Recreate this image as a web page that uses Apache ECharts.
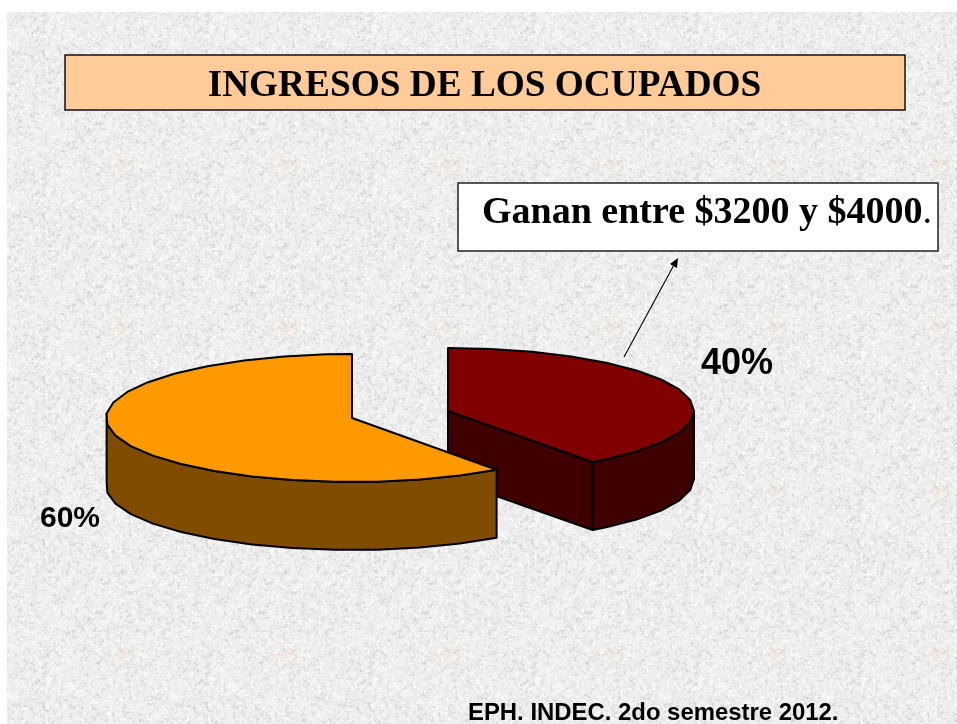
<!DOCTYPE html>
<html>
<head>
<meta charset="utf-8">
<style>html,body{margin:0;padding:0;background:#fff}#chart{width:957px;height:724px}</style>
<script src="https://cdn.jsdelivr.net/npm/echarts@6/dist/echarts.min.js"></script>
</head>
<body>
<div id="chart"></div>
<script>
// --- data ---
const sliceNames = ['Ganan entre $3200 y $4000', 'Resto'];
const sliceValues = [40, 60];
const chartTitle = 'INGRESOS DE LOS OCUPADOS';
const calloutText = 'Ganan entre $3200 y $4000';
const sourceText = 'EPH. INDEC. 2do semestre 2012.';

// --- look ---
const topColors = ['#800000', '#ff9900'];
const sideColors = ['#3f0000', '#804d00'];
const centers = [[448, 411], [352, 418]];
const radiiX = [246, 246];
const radiiY = [63, 64];
const depth = 68;
const labelBoxes = [
  {x: 737, y: 364, size: 36},
  {x: 70, y: 519, size: 30}
];

// Subtle paper texture tile (deterministic hash, decoration only)
function makeTile() {
  const S = 163, c = document.createElement('canvas');
  c.width = c.height = S;
  const g = c.getContext('2d');
  g.fillStyle = '#ededed';
  g.fillRect(0, 0, S, S);
  let seed = 12345;
  const rnd = () => (seed = (seed * 1664525 + 1013904223) >>> 0) / 4294967296;
  g.filter = 'blur(0.6px)';
  g.lineCap = 'round';
  for (let i = 0; i < 3600; i++) {
    const x = rnd() * S, y = rnd() * S, a = rnd() * 6.283, l = 1.5 + rnd() * 3, k = rnd();
    g.strokeStyle = k < 0.62 ? 'rgba(255,255,255,0.48)' : 'rgba(180,180,180,0.26)';
    g.lineWidth = 0.8 + rnd() * 0.9;
    for (const dx of [0, -S, S]) for (const dy of [0, -S, S]) {
      if (x + dx < -8 || x + dx > S + 8 || y + dy < -8 || y + dy > S + 8) continue;
      g.beginPath();
      g.moveTo(x + dx, y + dy);
      g.lineTo(x + dx + Math.cos(a) * l, y + dy + Math.sin(a) * l);
      g.stroke();
    }
  }
  // faint peach motif
  g.filter = 'blur(1.5px)';
  g.fillStyle = 'rgba(240,205,170,0.12)';
  const mx = 123, my = 2;
  for (const dy of [0, S]) {
    g.fillRect(mx - 10, my + dy - 3, 20, 6);
    g.fillRect(mx - 5, my + dy - 11, 10, 22);
  }
  g.filter = 'none';
  return c;
}

function pt(cx, cy, rx, ry, deg, dy) {
  const r = deg * Math.PI / 180;
  return [cx + rx * Math.sin(r), cy - ry * Math.cos(r) + (dy || 0)];
}
function arcAngles(a0, a1) {
  const out = [];
  for (let a = a0; a < a1 - 0.01; a += 10) out.push(a);
  out.push(a1);
  return out;
}

const total = sliceValues.reduce((s, v) => s + v, 0);
const startAngles = sliceValues.map((_, i) =>
  sliceValues.slice(0, i).reduce((s, v) => s + v, 0) / total * 360);

const stroke = {stroke: '#000', lineWidth: 2, lineJoin: 'round'};

function renderSlice(params, api) {
  const i = params.dataIndex;
  const a0 = startAngles[i], a1 = a0 + api.value(0) / total * 360;
  const [cx, cy] = centers[i], rx = radiiX[i], ry = radiiY[i];
  const P = (a, d) => pt(cx, cy, rx, ry, a, d);
  const children = [];
  const poly = (points, fill, z2) => children.push({
    type: 'polygon', z2: z2, shape: {points},
    style: Object.assign({fill}, stroke)
  });
  // radial cut face, when it looks toward the viewer
  if (a1 < 180) {
    const e = P(a1);
    poly([[cx, cy], e, [e[0], e[1] + depth], [cx, cy + depth]], sideColors[i], 1);
  }
  // outer wall: the front part of the rim
  const v0 = Math.max(a0, 90), v1 = Math.min(a1, 270);
  if (v1 > v0) {
    const wall = i === 0 ? arcAngles(v0, v1) : arcAngles(v0, v1 + 4);
    const up = wall.map(a => P(a));
    const down = wall.slice().reverse().map(a => P(a, depth));
    poly(up.concat(down), sideColors[i], 2);
  }
  // top face
  const top = arcAngles(a0, a1).map(a => P(a));
  poly([[cx, cy]].concat(top), topColors[i], 3);
  // percentage label
  children.push({
    type: 'text', z2: 4,
    style: {
      x: labelBoxes[i].x, y: labelBoxes[i].y,
      text: api.value(0) + '%',
      align: 'center', verticalAlign: 'middle',
      fontFamily: 'Liberation Sans', fontWeight: 'bold',
      fontSize: labelBoxes[i].size, fill: '#000'
    }
  });
  return {type: 'group', children};
}

const chart = echarts.init(document.getElementById('chart'), null, {renderer: 'canvas'});
chart.setOption({
  animation: false,
  backgroundColor: '#fff',
  tooltip: {show: false},
  graphic: [
    {type: 'rect', z: -10, silent: true, shape: {x: 7, y: 12, width: 950, height: 712},
      style: {fill: {image: makeTile(), repeat: 'repeat'}}},
    {type: 'rect', z: 5, shape: {x: 65, y: 55, width: 840, height: 55},
      style: {fill: '#ffcc99', stroke: '#111', lineWidth: 1.5}},
    {type: 'text', z: 6, style: {x: 484.5, y: 86, text: chartTitle, align: 'center', verticalAlign: 'middle',
      fontFamily: 'Liberation Serif', fontWeight: 'bold', fontSize: 37.3, fill: '#000'}},
    {type: 'rect', z: 5, shape: {x: 458, y: 183, width: 480, height: 68},
      style: {fill: '#fff', stroke: '#222', lineWidth: 1.5}},
    {type: 'text', z: 6, style: {x: 482, y: 213, text: '{b|' + calloutText + '}{r|.}', align: 'left', verticalAlign: 'middle',
      rich: {
        b: {fontFamily: 'Liberation Serif', fontWeight: 'bold', fontSize: 38, fill: '#000'},
        r: {fontFamily: 'Liberation Serif', fontSize: 38, fill: '#000'}
      }}},
    {type: 'line', z: 6, shape: {x1: 624, y1: 357, x2: 675, y2: 263},
      style: {stroke: '#000', lineWidth: 1.1}},
    {type: 'polygon', z: 6, shape: {points: [[678, 258], [677, 268], [670, 264]]},
      style: {fill: '#000'}},
    {type: 'text', z: 6, style: {x: 468, y: 713, text: sourceText, align: 'left', verticalAlign: 'middle',
      fontFamily: 'Liberation Sans', fontWeight: 'bold', fontSize: 23.9, fill: '#000'}}
  ],
  series: [{
    type: 'custom',
    coordinateSystem: 'none',
    renderItem: renderSlice,
    silent: true,
    z: 3,
    data: sliceNames.map((n, i) => ({name: n, value: [sliceValues[i]]}))
  }]
});
</script>
</body>
</html>
